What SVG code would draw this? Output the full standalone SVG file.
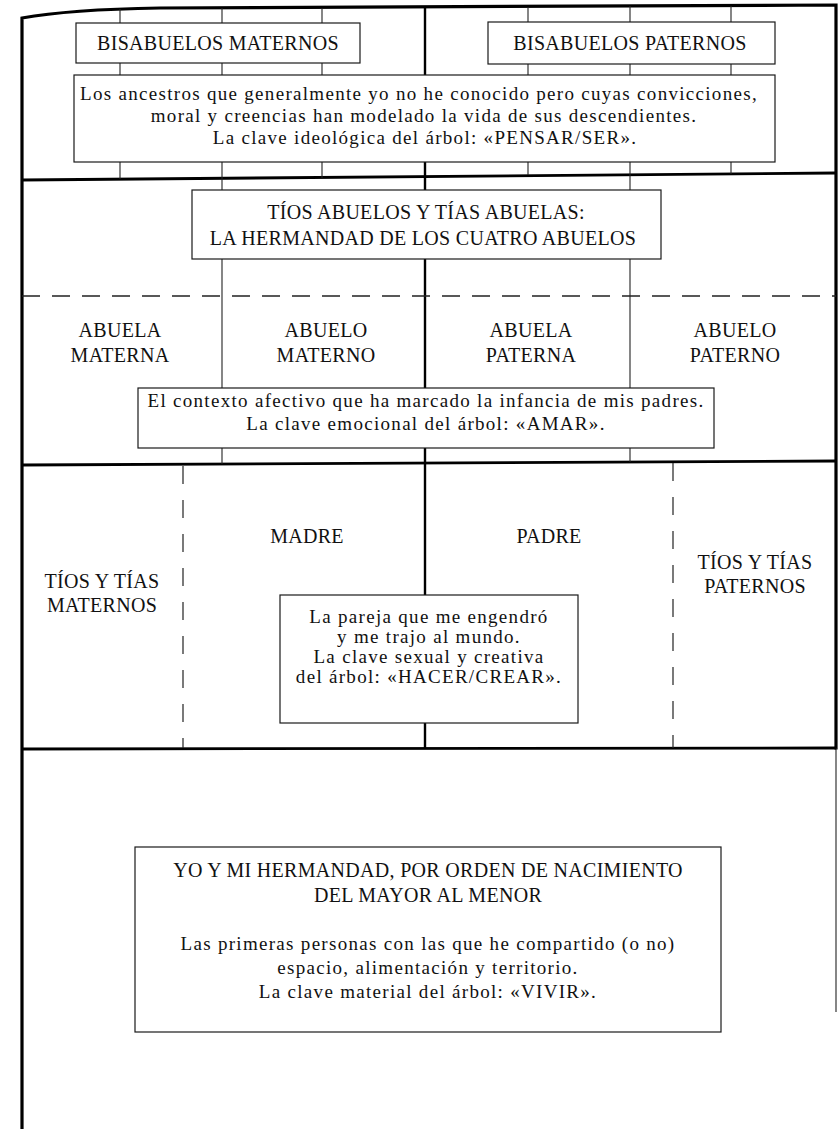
<svg xmlns="http://www.w3.org/2000/svg" width="838" height="1129" viewBox="0 0 838 1129">
<style>
.bg{fill:#fff}
.box{fill:#fff;stroke:#1a1a1a;stroke-width:1.2}
.caps{font-family:"Liberation Serif",serif;font-size:20px;letter-spacing:0.3px;fill:#111;text-anchor:middle}
.body{font-family:"Liberation Serif",serif;font-size:19px;letter-spacing:1.3px;fill:#111;text-anchor:middle}
.frame{stroke:#000;stroke-width:3.2;fill:none;stroke-linecap:square}
.sec{stroke:#000;stroke-width:2.8;fill:none}
.mid{stroke:#000;stroke-width:2.4}
.thin{stroke:#222;stroke-width:1.1}
.hdash{stroke:#222;stroke-width:1.3;stroke-dasharray:18 12}
.vdash{stroke:#222;stroke-width:1.2;stroke-dasharray:18 16}
</style>
<rect class="bg" x="0" y="0" width="838" height="1129"/>
<g id="connectors">
  <path class="frame" d="M22,1129 L22,18 C55,12 100,9 160,8 L836,5 L836,748"/>
  <line class="thin" x1="836" y1="748" x2="836" y2="1012"/>
  <path class="sec" d="M22,180 L836,173"/>
  <path class="sec" d="M22,465 L836,461"/>
  <path class="sec" d="M22,749 L836,748"/>
  <line class="mid" x1="425" y1="6" x2="425" y2="748"/>
  <line class="thin" x1="120" y1="9" x2="120" y2="179"/>
  <line class="thin" x1="222" y1="8" x2="222" y2="464"/>
  <line class="thin" x1="322" y1="8" x2="322" y2="178"/>
  <line class="thin" x1="528" y1="7" x2="528" y2="175"/>
  <line class="thin" x1="630" y1="6" x2="630" y2="462"/>
  <line class="thin" x1="731" y1="6" x2="731" y2="174"/>
  <line class="hdash" x1="22" y1="296" x2="836" y2="296"/>
  <line class="vdash" x1="183" y1="466" x2="183" y2="748"/>
  <line class="vdash" x1="673" y1="463" x2="673" y2="748"/>
</g>
<g id="bisabuelos-maternos">
  <rect class="box" x="76" y="23" width="284" height="40"/>
  <text class="caps" x="218" y="50">BISABUELOS MATERNOS</text>
</g>
<g id="bisabuelos-paternos">
  <rect class="box" x="488" y="22" width="287" height="42"/>
  <text class="caps" x="630" y="50">BISABUELOS PATERNOS</text>
</g>
<g id="ancestros">
  <rect class="box" x="74" y="75" width="701" height="87"/>
  <text class="body" x="419" y="100">Los ancestros que generalmente yo no he conocido pero cuyas convicciones,</text>
  <text class="body" x="424" y="122">moral y creencias han modelado la vida de sus descendientes.</text>
  <text class="body" x="425" y="144">La clave ideológica del árbol: «PENSAR/SER».</text>
</g>
<g id="tios-abuelos">
  <rect class="box" x="192" y="190" width="469" height="69"/>
  <text class="caps" x="426" y="219">TÍOS ABUELOS Y TÍAS ABUELAS:</text>
  <text class="caps" x="423" y="245">LA HERMANDAD DE LOS CUATRO ABUELOS</text>
</g>
<g id="abuela-materna">
  <text class="caps" x="120" y="337">ABUELA</text>
  <text class="caps" x="120" y="362">MATERNA</text>
</g>
<g id="abuelo-materno">
  <text class="caps" x="326" y="337">ABUELO</text>
  <text class="caps" x="326" y="362">MATERNO</text>
</g>
<g id="abuela-paterna">
  <text class="caps" x="531" y="337">ABUELA</text>
  <text class="caps" x="531" y="362">PATERNA</text>
</g>
<g id="abuelo-paterno">
  <text class="caps" x="735" y="337">ABUELO</text>
  <text class="caps" x="735" y="362">PATERNO</text>
</g>
<g id="contexto">
  <rect class="box" x="138" y="388" width="576" height="60"/>
  <text class="body" x="426" y="407">El contexto afectivo que ha marcado la infancia de mis padres.</text>
  <text class="body" x="426" y="430">La clave emocional del árbol: «AMAR».</text>
</g>
<g id="tios-maternos">
  <text class="caps" x="102" y="588">TÍOS Y TÍAS</text>
  <text class="caps" x="102" y="612">MATERNOS</text>
</g>
<g id="madre">
  <text class="caps" x="307" y="543">MADRE</text>
</g>
<g id="padre">
  <text class="caps" x="549" y="543">PADRE</text>
</g>
<g id="tios-paternos">
  <text class="caps" x="755" y="569">TÍOS Y TÍAS</text>
  <text class="caps" x="755" y="593">PATERNOS</text>
</g>
<g id="pareja">
  <rect class="box" x="280" y="595" width="298" height="128"/>
  <text class="body" x="429" y="623">La pareja que me engendró</text>
  <text class="body" x="429" y="643">y me trajo al mundo.</text>
  <text class="body" x="429" y="663">La clave sexual y creativa</text>
  <text class="body" x="429" y="683">del árbol: «HACER/CREAR».</text>
</g>
<g id="hermandad">
  <rect class="box" x="135" y="847" width="586" height="185"/>
  <text class="caps" x="428" y="877">YO Y MI HERMANDAD, POR ORDEN DE NACIMIENTO</text>
  <text class="caps" x="428" y="902">DEL MAYOR AL MENOR</text>
  <text class="body" x="428" y="950">Las primeras personas con las que he compartido (o no)</text>
  <text class="body" x="428" y="974">espacio, alimentación y territorio.</text>
  <text class="body" x="428" y="998">La clave material del árbol: «VIVIR».</text>
</g>
</svg>
